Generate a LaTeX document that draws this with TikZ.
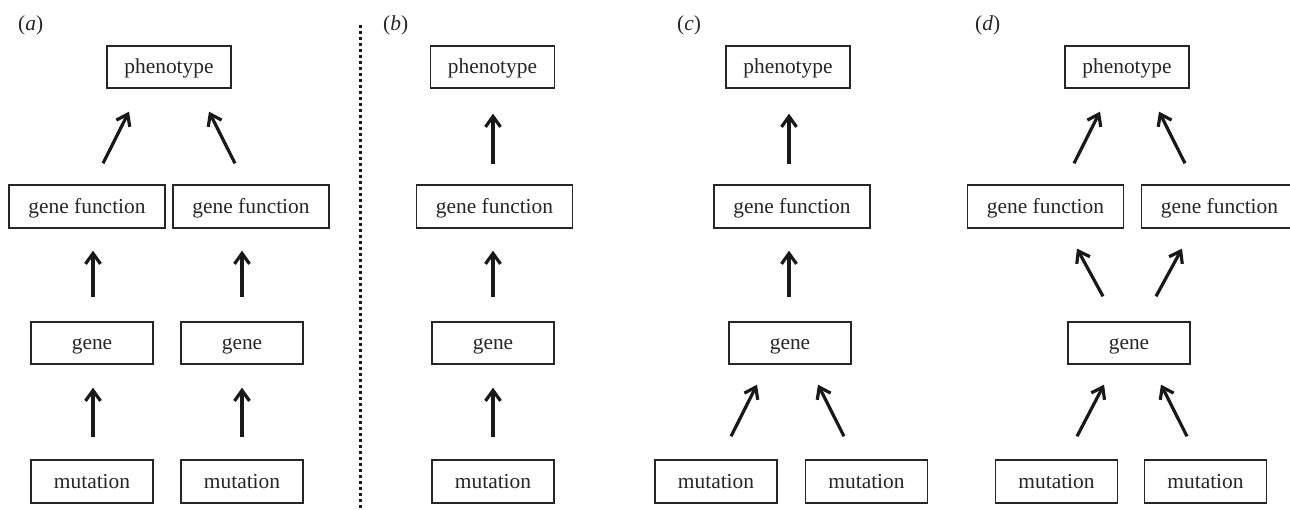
\documentclass[tikz,border=0pt]{standalone}
\usepackage{fontspec}
\setmainfont{Liberation Serif}
\usetikzlibrary{arrows.meta}
\tikzset{
  box/.style={draw=black!85, line width=1.3pt, inner sep=0pt, text height=16pt, text depth=2pt,
    font=\fontsize{21.4}{26}\selectfont, text=black!85},
  pbox/.style={box, minimum width=124pt, minimum height=42pt},
  fbox/.style={box, minimum width=156pt, minimum height=43pt},
  gbox/.style={box, minimum width=122pt, minimum height=42pt},
  mbox/.style={box, minimum width=122pt, minimum height=43pt},
  arr/.style={line width=3.2pt, draw=black!90, -{Straight Barb[length=10.5pt,width=15pt]}},
  lab/.style={anchor=base west, inner sep=0pt, font=\fontsize{21.4}{26}\selectfont, text=black!85},
}
\begin{document}
\begin{tikzpicture}[x=1pt,y=-1pt]
\useasboundingbox (0,0) rectangle (1290,510);
\fill[white] (0,0) rectangle (1290,510);

% ---------- panel (a)
\node[lab] (la) at (18,31) {(\textit{a})};
\node[pbox] (pha) at (169,67) {phenotype};
\node[fbox] (gfa1) at (87,206.5) {gene function};
\node[fbox] (gfa2) at (251,206.5) {gene function};
\node[gbox] (gna1) at (92,343) {gene};
\node[gbox] (gna2) at (242,343) {gene};
\node[mbox] (mua1) at (92,481.5) {mutation};
\node[mbox] (mua2) at (242,481.5) {mutation};
\draw[arr] ([xshift=16pt,yshift=21pt]gfa1.north) -- ([xshift=-40pt,yshift=-23pt]pha.south);
\draw[arr] ([xshift=-16pt,yshift=21pt]gfa2.north) -- ([xshift=40pt,yshift=-23pt]pha.south);
\draw[arr] ([xshift=1pt,yshift=24pt]gna1.north) -- ([xshift=6pt,yshift=-22pt]gfa1.south);
\draw[arr] ([yshift=24pt]gna2.north) -- ([xshift=-9pt,yshift=-22pt]gfa2.south);
\draw[arr] ([xshift=1pt,yshift=22pt]mua1.north) -- ([xshift=1pt,yshift=-23pt]gna1.south);
\draw[arr] ([yshift=22pt]mua2.north) -- ([yshift=-23pt]gna2.south);

% divider
\coordinate (dtop) at (360,25);
\coordinate (dbot) at (360,512);
\draw[line width=3pt, dash pattern=on 3pt off 3pt, black!90] (dtop) -- (dbot);

% ---------- panel (b)
\node[lab] (lb) at (383,31) {(\textit{b})};
\node[pbox] (phb) at (492.5,67) {phenotype};
\node[fbox] (gfb) at (494.5,206.5) {gene function};
\node[gbox] (gnb) at (493,343) {gene};
\node[mbox] (mub) at (493,481.5) {mutation};
\draw[arr] ([xshift=-1.5pt,yshift=20pt]gfb.north) -- ([xshift=0.5pt,yshift=-25pt]phb.south);
\draw[arr] ([yshift=24pt]gnb.north) -- ([xshift=-1.5pt,yshift=-22pt]gfb.south);
\draw[arr] ([yshift=22pt]mub.north) -- ([yshift=-23pt]gnb.south);

% ---------- panel (c)
\node[lab] (lc) at (677,31) {(\textit{c})};
\node[pbox] (phc) at (788,67) {phenotype};
\node[fbox] (gfc) at (792,206.5) {gene function};
\node[gbox] (gnc) at (790,343) {gene};
\node[mbox] (muc1) at (716,481.5) {mutation};
\node[mbox] (muc2) at (866.5,481.5) {mutation};
\draw[arr] ([xshift=-3pt,yshift=20pt]gfc.north) -- ([xshift=1pt,yshift=-25pt]phc.south);
\draw[arr] ([xshift=-1pt,yshift=24pt]gnc.north) -- ([xshift=-3pt,yshift=-22pt]gfc.south);
\draw[arr] ([xshift=15pt,yshift=23pt]muc1.north) -- ([xshift=-33pt,yshift=-20pt]gnc.south);
\draw[arr] ([xshift=-22.5pt,yshift=23pt]muc2.north) -- ([xshift=28pt,yshift=-20pt]gnc.south);

% ---------- panel (d)
\node[lab] (ld) at (975,31) {(\textit{d})};
\node[pbox] (phd) at (1127,67) {phenotype};
\node[fbox] (gfd1) at (1045.5,206.5) {gene function};
\node[fbox] (gfd2) at (1219.5,206.5) {gene function};
\node[gbox] (gnd) at (1129,343) {gene};
\node[mbox] (mud1) at (1056.5,481.5) {mutation};
\node[mbox] (mud2) at (1205.5,481.5) {mutation};
\draw[arr] ([xshift=28.5pt,yshift=21pt]gfd1.north) -- ([xshift=-27pt,yshift=-23pt]phd.south);
\draw[arr] ([xshift=-34.5pt,yshift=21pt]gfd2.north) -- ([xshift=32pt,yshift=-23pt]phd.south);
\draw[arr] ([xshift=-26pt,yshift=25pt]gnd.north) -- ([xshift=31.5pt,yshift=-20pt]gfd1.south);
\draw[arr] ([xshift=27pt,yshift=25pt]gnd.north) -- ([xshift=-37.5pt,yshift=-20pt]gfd2.south);
\draw[arr] ([xshift=20.5pt,yshift=23pt]mud1.north) -- ([xshift=-25pt,yshift=-20pt]gnd.south);
\draw[arr] ([xshift=-18.5pt,yshift=23pt]mud2.north) -- ([xshift=32pt,yshift=-20pt]gnd.south);
\end{tikzpicture}
\end{document}
